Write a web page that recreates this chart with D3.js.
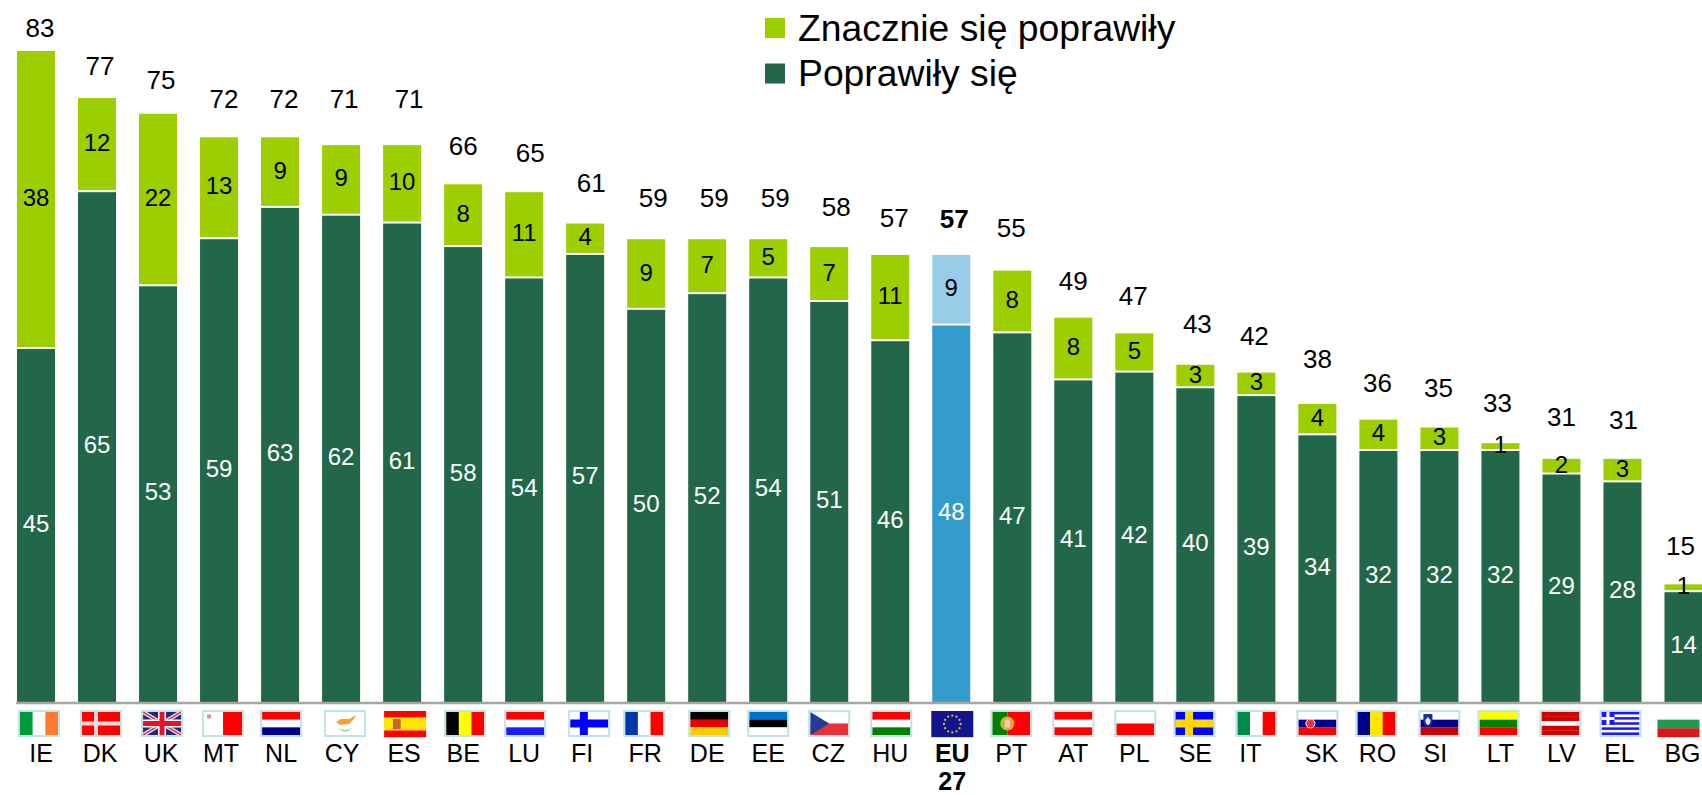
<!DOCTYPE html>
<html lang="pl">
<head>
<meta charset="utf-8">
<script src="https://cdn.jsdelivr.net/npm/d3@7/dist/d3.min.js"></script>
<style>
html,body{margin:0;padding:0;background:#fff}
svg{display:block}
text{font-family:"Liberation Sans",Arial,sans-serif}
</style>
</head>
<body>
<svg id="c" width="1702" height="795"></svg>
<script>
const categories = ["IE","DK","UK","MT","NL","CY","ES","BE","LU","FI","FR","DE","EE","CZ","HU","EU","PT","AT","PL","SE","IT","SK","RO","SI","LT","LV","EL","BG"];
const improved = [45,65,53,59,63,62,61,58,54,57,50,52,54,51,46,48,47,41,42,40,39,34,32,32,32,29,28,14];
const muchImproved = [38,12,22,13,9,9,10,8,11,4,9,7,5,7,11,9,8,8,5,3,3,4,4,3,1,2,3,1];
const totals = [83,77,75,72,72,71,71,66,65,61,59,59,59,58,57,57,55,49,47,43,42,38,36,35,33,31,31,15];
const legendLabels = ["Znacznie się poprawiły","Poprawiły się"];

// hand placement of the labels, as in the source slide
const totalNudgeX = [4,3,3,5,4,3,7,0,6,6,7,7,7,7,4,3,-1,0,-1,2,-2,0,-1,-1,-3,0,1,-3];
const totalLift = [23,31,33,37,37,44,44,37,38,39,40,40,40,39,36,35,41,36,36,39,36,43,36,38,39,40,38,37];
const tickNudgeX = [5,3,3,2,1,1,2,0,0,-3,-1,0,0,-1,0,1,-1,0,0,0,-6,4,-1,-4,0,0,-3,-1];
const flagNudgeX = [3,4,4,4,1,4,3,2,1,4,-2,2,0,0,1,1,-1,0,1,-1,0,0,-2,0,-2,-1,-2,-5];

const GREEN="#22674a", LIME="#9dce00", BLUE="#339ccc", LIGHTBLUE="#99cce6";
const svg = d3.select("#c");
const baseY = 702;
const x = d3.scaleBand().domain(categories).range([5.5,1714]).paddingInner(0.377).paddingOuter(0.1885);
const y = d3.scaleLinear().domain([0,83]).range([baseY,51]);
const cx = c => x(c)+x.bandwidth()/2;

const stack = d3.stack().keys(["improved","much"])(categories.map((c,i)=>({c,improved:improved[i],much:muchImproved[i]})));
const fill = (key,c) => c==="EU" ? (key==="improved"?BLUE:LIGHTBLUE) : (key==="improved"?GREEN:LIME);

stack.forEach(layer=>{
  const gap = layer.key==="much" ? 2 : 0;
  svg.append("g").selectAll("rect").data(layer).join("rect")
    .attr("x",d=>x(d.data.c)).attr("width",x.bandwidth())
    .attr("y",d=>y(d[1])).attr("height",d=>y(d[0])-y(d[1])-gap)
    .attr("fill",d=>fill(layer.key,d.data.c));
});

// segment labels
svg.append("g").selectAll("text").data(stack[0]).join("text")
  .attr("x",d=>cx(d.data.c)).attr("y",d=>(y(d[0])+y(d[1]))/2+6)
  .attr("text-anchor","middle").attr("font-size",24).attr("fill","#fff")
  .text(d=>d.data.improved);
svg.append("g").selectAll("text").data(stack[1]).join("text")
  .attr("x",d=>cx(d.data.c)).attr("y",d=>(y(d[0])+y(d[1]))/2+6)
  .attr("text-anchor","middle").attr("font-size",24).attr("fill","#000")
  .text(d=>d.data.much);

// totals
svg.append("g").selectAll("text").data(categories).join("text")
  .attr("x",(c,i)=>cx(c)+totalNudgeX[i]).attr("y",(c,i)=>y(totals[i])-totalLift[i]*1.0855+11)
  .attr("text-anchor","middle").attr("font-size",26).attr("fill","#000")
  .attr("font-weight",c=>c==="EU"?"bold":"normal")
  .text((c,i)=>totals[i]);

// axis
const axis = svg.append("g").attr("transform",`translate(0,${baseY})`)
  .call(d3.axisBottom(x).tickSize(0).tickPadding(0));
axis.select(".domain").remove();
axis.selectAll(".tick text")
  .attr("font-size",25).attr("fill","#000").attr("font-family",'"Liberation Sans",Arial,sans-serif')
  .attr("dy",0).attr("y",60)
  .attr("x",(c,i)=>tickNudgeX[i])
  .attr("font-weight",c=>c==="EU"?"bold":"normal");
axis.selectAll(".tick").filter(c=>c==="EU").append("text")
  .attr("x",tickNudgeX[15]).attr("y",88).attr("text-anchor","middle")
  .attr("font-size",25).attr("font-weight","bold").attr("fill","#000").text("27");
svg.append("line").attr("x1",16).attr("x2",1702).attr("y1",baseY+1).attr("y2",baseY+1)
  .attr("stroke","#a6a6a6").attr("stroke-width",2.5);

// flags
const FW=38, FH=23;
function stripes(g,dir,cols,w=FW,h=FH){
  cols.forEach((col,i)=>{
    if(dir==="h") g.append("rect").attr("x",0).attr("y",i*h/cols.length).attr("width",w).attr("height",h/cols.length+.2).attr("fill",col);
    else g.append("rect").attr("x",i*w/cols.length).attr("y",0).attr("width",w/cols.length+.2).attr("height",h).attr("fill",col);
  });
}
function cross(g,bg,col){
  stripes(g,"h",[bg]);
  const cxf=FW*0.36, cyf=FH/2;
  g.append("rect").attr("x",cxf-4).attr("y",0).attr("width",8).attr("height",FH).attr("fill",col);
  g.append("rect").attr("x",0).attr("y",cyf-4).attr("width",FW).attr("height",8).attr("fill",col);
}
const flagDraw = {
  IE:g=>stripes(g,"v",["#009a3d","#fff","#ff7b32"]),
  DK:g=>{stripes(g,"h",["#ff0000"]);
    g.append("rect").attr("x",12).attr("y",0).attr("width",4).attr("height",FH).attr("fill","#ffd8d8");
    g.append("rect").attr("x",0).attr("y",9.5).attr("width",FW).attr("height",4).attr("fill","#ffd8d8");},
  UK:g=>{stripes(g,"h",["#1f2a78"]);
    g.append("path").attr("d",`M0 0L${FW} ${FH}M${FW} 0L0 ${FH}`).attr("stroke","#e8e8f0").attr("stroke-width",4);
    g.append("path").attr("d",`M0 0L${FW} ${FH}M${FW} 0L0 ${FH}`).attr("stroke","#d84050").attr("stroke-width",1.5);
    g.append("rect").attr("x",15).attr("y",0).attr("width",8).attr("height",FH).attr("fill","#fff");
    g.append("rect").attr("x",0).attr("y",7.5).attr("width",FW).attr("height",8).attr("fill","#fff");
    g.append("rect").attr("x",16.5).attr("y",0).attr("width",5).attr("height",FH).attr("fill","#e8102a");
    g.append("rect").attr("x",0).attr("y",9).attr("width",FW).attr("height",5).attr("fill","#e8102a");},
  MT:g=>{stripes(g,"v",["#fff","#ff0000"]);g.append("rect").attr("x",3).attr("y",2.5).attr("width",4).attr("height",4).attr("fill","#c79a9a");},
  NL:g=>stripes(g,"h",["#ff0000","#fff","#00008f"]),
  CY:g=>{stripes(g,"h",["#fff"]);
    g.append("path").attr("d","M10 10 L15 7 L23 7 L30 3 L27 8 L23 12 L14 13 Z").attr("fill","#f7a030");
    g.append("path").attr("d","M12 16 Q19 23 26 16 Q19 20 12 16").attr("fill","#8fcf8f");},
  ES:g=>{stripes(g,"h",["#ff0000","#ffe600","#ffe600","#ff0000"]);
    g.append("rect").attr("x",8).attr("y",7).attr("width",7).attr("height",9).attr("fill","#c8603a");},
  BE:g=>stripes(g,"v",["#000","#ffff00","#ff0000"]),
  LU:g=>stripes(g,"h",["#ff0000","#fff","#1a1aff"]),
  FI:g=>cross(g,"#fff","#0000ff"),
  FR:g=>stripes(g,"v",["#0038a8","#fff","#ff0000"]),
  DE:g=>stripes(g,"h",["#000","#e80000","#ffcc00"]),
  EE:g=>stripes(g,"h",["#0072ce","#000","#fff"]),
  CZ:g=>{stripes(g,"h",["#fff","#e8303a"]);g.append("path").attr("d",`M0 0L19 ${FH/2}L0 ${FH}Z`).attr("fill","#1f3d9a");},
  HU:g=>stripes(g,"h",["#ff0000","#fff","#008000"]),
  EU:g=>{stripes(g,"h",["#14148c"]);
    d3.range(12).forEach(i=>g.append("circle").attr("cx",FW/2+7.5*Math.cos(i*Math.PI/6)).attr("cy",FH/2+7.5*Math.sin(i*Math.PI/6)).attr("r",1).attr("fill","#d8c040"));},
  PT:g=>{g.append("rect").attr("width",15).attr("height",FH).attr("fill","#008000");
    g.append("rect").attr("x",15).attr("width",FW-15).attr("height",FH).attr("fill","#ff0000");
    g.append("circle").attr("cx",15).attr("cy",FH/2).attr("r",7).attr("fill","#d8b030");
    g.append("rect").attr("x",12.5).attr("y",FH/2-4).attr("width",5).attr("height",8).attr("fill","#f0c8c8");},
  AT:g=>stripes(g,"h",["#ff0000","#fff","#ff0000"]),
  PL:g=>stripes(g,"h",["#fff","#ff0000"]),
  SE:g=>cross(g,"#0000ff","#ffd800"),
  IT:g=>stripes(g,"v",["#008c45","#fff","#ff0000"]),
  SK:g=>{stripes(g,"h",["#fff","#00008f","#ff0000"]);
    g.append("circle").attr("cx",12).attr("cy",FH/2).attr("r",4.5).attr("fill","#f03040").attr("stroke","#fff");},
  RO:g=>stripes(g,"v",["#00008f","#ffe600","#ff0000"]),
  SI:g=>{stripes(g,"h",["#fff","#00008f","#c80000"]);
    g.append("path").attr("d","M3 2H12V9Q12 14 7.5 15Q3 14 3 9Z").attr("fill","#1f2f8f");
    g.append("path").attr("d","M5 8L7.5 5L10 8V10Q9 13 7.5 13Q6 13 5 10Z").attr("fill","#e0f0f0");},
  LT:g=>stripes(g,"h",["#ffff00","#008000","#ff0000"]),
  LV:g=>stripes(g,"h",["#d40000","#d40000","#fff","#d40000","#d40000"]),
  EL:g=>{stripes(g,"h",d3.range(9).map(i=>i%2?"#fff":"#1a1aff"));
    g.append("rect").attr("width",13).attr("height",12.8).attr("fill","#1a1aff");
    g.append("rect").attr("x",5).attr("width",3).attr("height",12.8).attr("fill","#fff");
    g.append("rect").attr("y",5).attr("width",13).attr("height",3).attr("fill","#fff");},
  BG:g=>stripes(g,"h",["#fff","#1f9a50","#d81818"])
};
const noBorder = new Set(["ES","EU","BG"]);
categories.forEach((c,i)=>{
  const big = noBorder.has(c);
  const fx = cx(c)+flagNudgeX[i]-FW/2, fy = 712;
  const g = svg.append("g").attr("transform",`translate(${fx},${fy})`);
  const inner = big ? g.append("g").attr("transform",`translate(-2,-1) scale(${(FW+4)/FW},${(FH+3)/FH})`) : g;
  flagDraw[c](inner);
  if(!big) g.append("rect").attr("x",-1).attr("y",-1).attr("width",FW+2).attr("height",FH+2)
    .attr("fill","none").attr("stroke","#bfe3e8").attr("stroke-width",2);
});

// legend
const legend = svg.append("g");
[LIME,GREEN].forEach((col,i)=>{
  legend.append("rect").attr("x",765).attr("y",18+i*45.5).attr("width",20).attr("height",20).attr("fill",col);
  legend.append("text").attr("x",798).attr("y",41+i*45).attr("font-size",37.3).attr("fill","#000").text(legendLabels[i]);
});
</script>
</body>
</html>
